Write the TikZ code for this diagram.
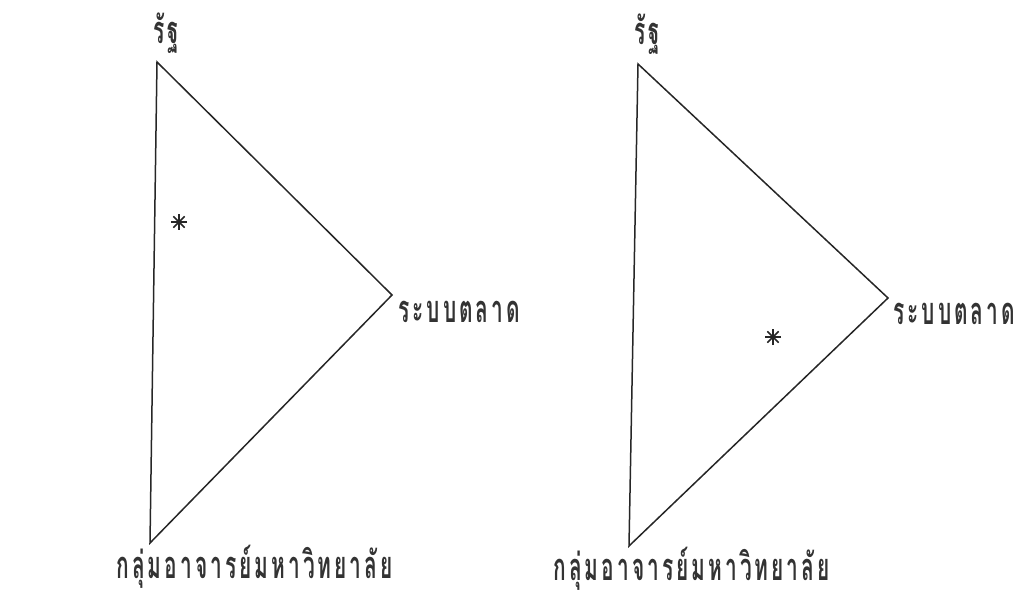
\documentclass[tikz,border=0pt]{standalone}
\usepackage{fontspec}
\usetikzlibrary{calc}
\newfontfamily\thaifont[Script=Thai,LetterSpace=8,FakeStretch=0.55]{Loma}
\begin{document}
\begin{tikzpicture}[x=1pt,y=-1pt,
  edge/.style={line width=1.5pt, line join=miter, draw=black!85},
  lbl/.style={font=\thaifont\bfseries\fontsize{38}{42}\selectfont, inner sep=0pt, text=black!80},
  spoke/.style={line width=1.6pt, draw=black!85}]
\useasboundingbox (0,0) rectangle (1023,596);
% left triangle
\coordinate (LT) at (157,62);
\coordinate (LR) at (392,295);
\coordinate (LB) at (150,543);
\draw[edge] (LT) -- (LR) -- (LB) -- cycle;
% right triangle
\coordinate (RT) at (638,64);
\coordinate (RR) at (888,298);
\coordinate (RB) at (629,546);
\draw[edge] (RT) -- (RR) -- (RB) -- cycle;
% labels
\node[lbl, anchor=base] (LTl) at (166,44) {รัฐ};
\node[lbl, anchor=base] (RTl) at (647,45) {รัฐ};
\node[lbl, anchor=base west] (LRl) at (398,322) {ระบบตลาด};
\node[lbl, anchor=base west] (RRl) at (893,324) {ระบบตลาด};
\node[lbl, anchor=base east] (LBl) at (393,578) {กลุ่มอาจารย์มหาวิทยาลัย};
\node[lbl, anchor=base east] (RBl) at (830,580) {กลุ่มอาจารย์มหาวิทยาลัย};
% stars
\coordinate (S1) at (179,222);
\coordinate (S2) at (773,337);
\foreach \s in {S1,S2}{
  \foreach \a in {0,45,90,135}{
    \draw[spoke] ($(\s)+(\a:8)$) -- ($(\s)+(\a+180:8)$);
  }
}
\end{tikzpicture}
\end{document}
